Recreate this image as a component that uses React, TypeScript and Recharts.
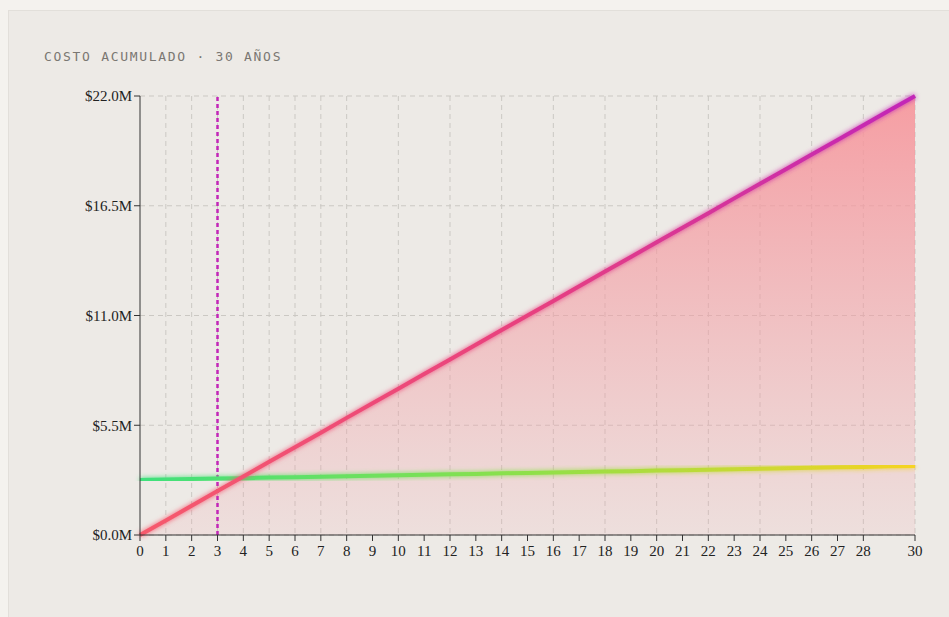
import {
  ComposedChart,
  Line,
  Area,
  XAxis,
  YAxis,
  CartesianGrid,
  ReferenceLine,
} from 'recharts'

const YEARS = [
  0, 1, 2, 3, 4, 5, 6, 7, 8, 9, 10, 11, 12, 13, 14, 15, 16, 17, 18, 19, 20, 21, 22, 23, 24, 25, 26, 27,
  28, 29, 30,
]
// millones acumulados
const COSTO_ACTUAL = [
  0, 0.73, 1.47, 2.2, 2.93, 3.67, 4.4, 5.13, 5.87, 6.6, 7.33, 8.07, 8.8, 9.53, 10.27, 11.0, 11.73, 12.47,
  13.2, 13.93, 14.67, 15.4, 16.13, 16.87, 17.6, 18.33, 19.07, 19.8, 20.53, 21.27, 22.0,
]
const COSTO_ALTERNATIVA = [
  2.76, 2.78, 2.81, 2.83, 2.85, 2.88, 2.9, 2.92, 2.95, 2.97, 2.99, 3.02, 3.04, 3.06, 3.09, 3.11, 3.13,
  3.16, 3.18, 3.2, 3.23, 3.25, 3.27, 3.3, 3.32, 3.34, 3.37, 3.39, 3.41, 3.44, 3.46,
]
const X_TICKS = [
  0, 1, 2, 3, 4, 5, 6, 7, 8, 9, 10, 11, 12, 13, 14, 15, 16, 17, 18, 19, 20, 21, 22, 23, 24, 25, 26, 27,
  28, 30,
]
const X_GRID = [1, 2, 3, 4, 5, 6, 7, 8, 10, 12, 14, 16, 18, 20, 22, 24, 26, 28, 30]
const Y_TICKS = [0, 5.5, 11, 16.5, 22]
const BREAKEVEN_YEAR = 3

const data = YEARS.map((year, i) => ({
  year,
  actual: COSTO_ACTUAL[i],
  alternativa: COSTO_ALTERNATIVA[i],
}))

const tickStyle = { fontFamily: '"Liberation Serif", serif', fontSize: 15, fill: '#222' }

export default function App() {
  return (
    <div
      style={{
        position: 'fixed',
        left: 0,
        top: 0,
        width: 949,
        height: 617,
        background: '#f4f2ee',
        overflow: 'hidden',
      }}
    >
      <div
        style={{
          position: 'absolute',
          left: 8,
          top: 10,
          width: 980,
          height: 640,
          background: '#edeae6',
          border: '1px solid #e2dfda',
        }}
      />
      <div
        style={{
          position: 'absolute',
          left: 44,
          top: 49,
          fontFamily: '"DejaVu Sans Mono", monospace',
          fontSize: 13,
          letterSpacing: 1.7,
          color: '#7a7772',
        }}
      >
        COSTO ACUMULADO · 30 AÑOS
      </div>
      <div style={{ position: 'absolute', left: 0, top: 0 }}>
        <ComposedChart
          width={949}
          height={617}
          data={data}
          margin={{ top: 96, right: 34, bottom: 52, left: 80 }}
        >
          <defs>
            <linearGradient id="areaFill" x1="0" y1="0" x2="0" y2="1">
              <stop offset="0%" stopColor="#f7959b" stopOpacity={0.9} />
              <stop offset="100%" stopColor="#f0a0a8" stopOpacity={0.15} />
            </linearGradient>
            <linearGradient id="redStroke" gradientUnits="userSpaceOnUse" x1="140" y1="0" x2="915" y2="0">
              <stop offset="0%" stopColor="#f65a6c" />
              <stop offset="50%" stopColor="#e8407f" />
              <stop offset="100%" stopColor="#c226b8" />
            </linearGradient>
            <linearGradient id="greenStroke" gradientUnits="userSpaceOnUse" x1="140" y1="0" x2="915" y2="0">
              <stop offset="0%" stopColor="#3fe07c" />
              <stop offset="50%" stopColor="#8ee04a" />
              <stop offset="100%" stopColor="#f6d322" />
            </linearGradient>
            <filter id="glow" x="-5%" y="-5%" width="110%" height="110%">
              <feGaussianBlur stdDeviation="2.5" result="blur" />
              <feMerge>
                <feMergeNode in="blur" />
                <feMergeNode in="SourceGraphic" />
              </feMerge>
            </filter>
          </defs>
          <CartesianGrid
            stroke="#cbc8c3"
            strokeDasharray="5 4"
            verticalValues={X_GRID}
            horizontalValues={Y_TICKS}
          />
          <XAxis
            dataKey="year"
            type="number"
            domain={[0, 30]}
            ticks={X_TICKS}
            interval={0}
            tick={tickStyle}
            tickMargin={4}
            stroke="#333"
            tickLine={{ stroke: '#333' }}
          />
          <YAxis
            type="number"
            domain={[0, 22]}
            ticks={Y_TICKS}
            width={60}
            tick={tickStyle}
            stroke="#333"
            tickLine={{ stroke: '#333' }}
            tickFormatter={(v: number) => `$${v.toFixed(1)}M`}
          />
          <Area
            type="linear"
            dataKey="actual"
            stroke="none"
            fill="url(#areaFill)"
            fillOpacity={1}
            isAnimationActive={false}
          />
          <ReferenceLine x={BREAKEVEN_YEAR} stroke="#c226b8" strokeWidth={2.5} strokeDasharray="4 3" />
          <Line
            type="linear"
            dataKey="alternativa"
            stroke="url(#greenStroke)"
            strokeWidth={4}
            dot={false}
            filter="url(#glow)"
            isAnimationActive={false}
          />
          <Line
            type="linear"
            dataKey="actual"
            stroke="url(#redStroke)"
            strokeWidth={4}
            dot={false}
            filter="url(#glow)"
            isAnimationActive={false}
          />
        </ComposedChart>
      </div>
    </div>
  )
}
